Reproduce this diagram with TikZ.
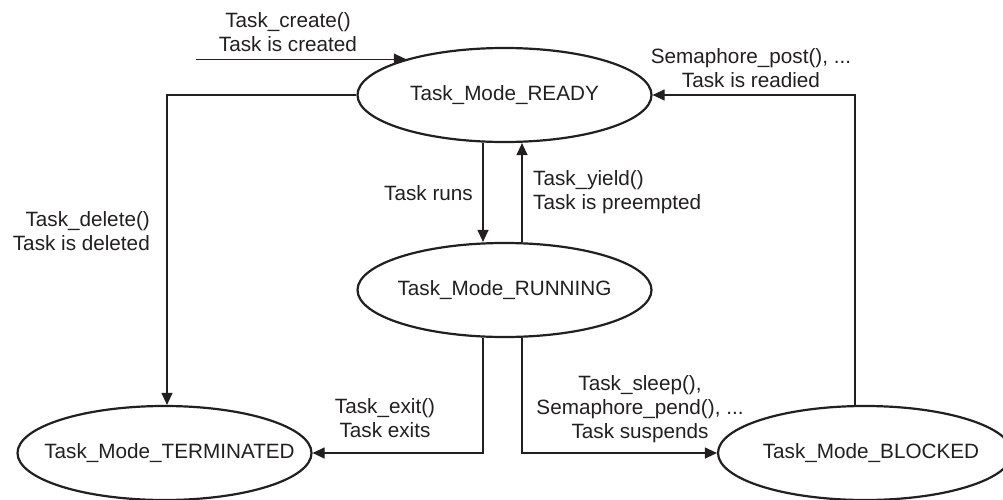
\documentclass[tikz,border=0pt]{standalone}
\usepackage{fontspec}
\setmainfont{Liberation Sans}
\usetikzlibrary{arrows.meta, calc, positioning, shapes.geometric}
\definecolor{inkgray}{RGB}{35,31,32}

\begin{document}
\begin{tikzpicture}[x=1pt, y=-1pt, font={\fontsize{20.7}{24}\selectfont}, text=inkgray,
    taskmode/.style={ellipse, draw=inkgray, line width=2.2pt, minimum width=294pt, minimum height=94pt, inner sep=0pt},
    trans/.style={draw=inkgray, line width=1.2pt, -{Triangle[length=12pt, width=11pt]}},
    lbl/.style={align=center, inner sep=0pt}]
    \clip (0,0) rectangle (1003,500);

    % States
    \node[taskmode, label={center:Task\_Mode\_READY}] (ready) at (504.5,95) {};
    \node[taskmode, label={center:Task\_Mode\_RUNNING}] (running) at (504.5,290) {};
    \node[taskmode, label={[xshift=5pt]center:Task\_Mode\_TERMINATED}] (term) at (164.5,453) {};
    \node[taskmode, label={[xshift=6pt]center:Task\_Mode\_BLOCKED}] (blocked) at (865,453) {};

    % Transitions
    \coordinate (create) at ($(ready.160)+(-210,0)$);
    \draw[trans] (create) -- (ready.160);
    \draw[trans] (ready.west) -| ([xshift=2.5pt]term.north);
    \draw[trans] ([xshift=-21.5pt]ready.south) -- ([xshift=-21.5pt]running.north);
    \draw[trans] ([xshift=17.5pt]running.north) -- ([xshift=17.5pt]ready.south);
    \draw[trans] ([xshift=-21.5pt]running.south) |- (term.east);
    \draw[trans] ([xshift=17.5pt]running.south) |- (blocked.west);
    \draw[trans] ([xshift=-10pt]blocked.north) |- (ready.east);

    % Labels
    \node[lbl] (createlbl) at (288,32) {Task\_create()\\Task is created};
    \node[lbl, anchor=east, align=right] (deletelbl) at (150,231) {Task\_delete()\\Task is deleted};
    \node[lbl, anchor=east] (runslbl) at (473,193) {Task runs};
    \node[lbl, anchor=west, align=left] (yieldlbl) at (533,192) {Task\_yield()\\Task is preempted};
    \node[lbl] (readiedlbl) at (751,68) {Semaphore\_post(), ...\\Task is readied};
    \node[lbl] (exitlbl) at (385,418) {Task\_exit()\\Task exits};
    \node[lbl] (suspendlbl) at (640,409) {Task\_sleep(),\\Semaphore\_pend(), ...\\Task suspends};
\end{tikzpicture}
\end{document}
